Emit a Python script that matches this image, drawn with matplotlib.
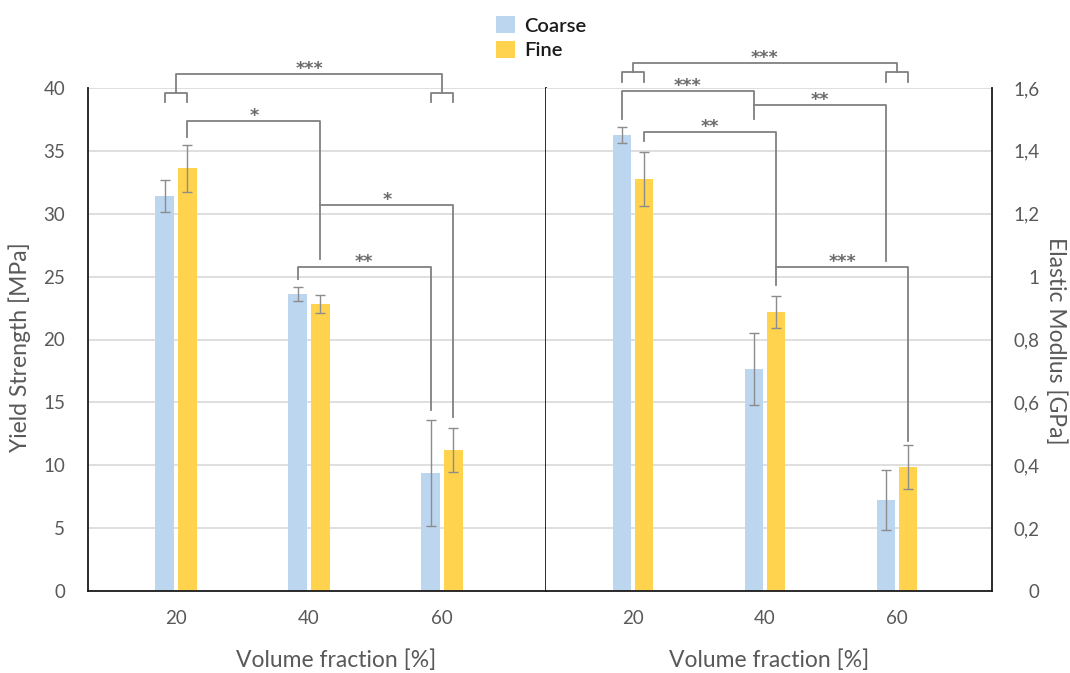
import matplotlib
matplotlib.use('Agg')
import matplotlib.pyplot as plt
from matplotlib.patches import Patch

plt.rcParams['font.family'] = ['Lato', 'DejaVu Sans']

fractions = ['20', '40', '60']
series = ['Coarse', 'Fine']
colors = ['#bcd6f0', '#ffd34e']

# rows: Coarse, Fine ; columns: 20, 40, 60 %
yield_mean = [[31.4, 23.6, 9.4], [33.6, 22.8, 11.2]]
yield_err = [[1.3, 0.55, 4.2], [1.85, 0.7, 1.75]]
modulus_mean = [[1.45, 0.706, 0.29], [1.31, 0.887, 0.394]]
modulus_err = [[0.025, 0.115, 0.095], [0.085, 0.05, 0.07]]

# significance brackets: (series, group) -> (series, group), top, leg1 bottom, leg2 bottom, label
yield_brackets = [
    ((1, 0), (1, 1), 37.4, 36.1, 26.4, '*'),
    ((1, 1), (1, 2), 30.7, 30.7, 13.8, '*'),
    ((0, 1), (0, 2), 25.8, 24.8, 14.4, '**'),
]
yield_group = (0, 2, 41.1, 39.6, 38.9, '***')

modulus_brackets = [
    ((0, 0), (0, 1), 1.59, 1.50, 1.50, '***'),
    ((0, 1), (0, 2), 1.546, 1.546, 1.05, '**'),
    ((1, 0), (1, 1), 1.46, 1.43, 0.973, '**'),
    ((1, 1), (1, 2), 1.03, 1.03, 0.477, '***'),
]
modulus_group = (0, 2, 1.68, 1.65, 1.62, '***')

off = 0.085
width = 0.14
txt_c = '#595959'
line_c = '#808080'
star_font = dict(fontsize=12.5, color='#6b6b6b', family='DejaVu Sans', fontweight='bold')


def bar_x(s, g):
    return g + (s - 0.5) * 2 * off


def draw_bars(ax, mean, err):
    for s in range(2):
        xs = [bar_x(s, g) for g in range(3)]
        ax.bar(xs, mean[s], width, color=colors[s], zorder=2)
        ax.errorbar(xs, mean[s], yerr=err[s], fmt='none', ecolor='#8c8c8c',
                    elinewidth=1, capsize=3.5, capthick=1, zorder=3)


def stars(ax, x, y, label):
    ax.annotate(label, (x, y), xytext=(0, 0), textcoords='offset points',
                ha='center', va='baseline', annotation_clip=False, **star_font)


def bracket(ax, a, b, top, b1, b2, label):
    x1 = bar_x(*a)
    x2 = bar_x(*b)
    ax.plot([x1, x1, x2, x2], [b1, top, top, b2], color=line_c, lw=1.3,
            clip_on=False, zorder=4)
    stars(ax, (x1 + x2) / 2, top, label)


def group_bracket(ax, g1, g2, top, sub, leg, label):
    for g in (g1, g2):
        ax.plot([bar_x(0, g), bar_x(0, g), bar_x(1, g), bar_x(1, g)], [leg, sub, sub, leg],
                color=line_c, lw=1.3, clip_on=False, zorder=4)
    ax.plot([g1, g1, g2, g2], [sub, top, top, sub], color=line_c, lw=1.3,
            clip_on=False, zorder=4)
    stars(ax, (g1 + g2) / 2, top, label)


fig = plt.figure(figsize=(10.7, 6.73), dpi=100)
ax1 = fig.add_axes([88 / 1070, 82 / 673, 458 / 1070, 503 / 673])
ax2 = fig.add_axes([546 / 1070, 82 / 673, 446 / 1070, 503 / 673])

draw_bars(ax1, yield_mean, yield_err)
draw_bars(ax2, modulus_mean, modulus_err)

for br in yield_brackets:
    bracket(ax1, *br)
group_bracket(ax1, *yield_group)
for br in modulus_brackets:
    bracket(ax2, *br)
group_bracket(ax2, *modulus_group)

ax1.set_xlim(-0.662, 2.782)
ax2.set_xlim(-0.659, 2.72)
ax1.set_ylim(0, 40)
ax2.set_ylim(0, 1.6)

yt1 = list(range(0, 41, 5))
ax1.set_yticks(yt1, [str(v) for v in yt1], ha='right')
yt2 = [i * 0.2 for i in range(9)]
ax2.set_yticks(yt2, [('%g' % round(v, 1)).replace('.', ',') for v in yt2], ha='right')
ax2.yaxis.tick_right()

for ax in (ax1, ax2):
    ax.set_xticks(range(3), fractions)
    ax.tick_params(axis='x', length=0, pad=14, labelsize=13.5, labelcolor=txt_c)
    ax.yaxis.grid(True, color='#d9d9d9', lw=1.2)
    ax.set_axisbelow(True)
    ax.spines['top'].set_visible(False)
    for sp in ax.spines.values():
        sp.set_color('#1a1a1a')
        sp.set_linewidth(1.3)

ax1.tick_params(axis='y', length=0, pad=16.5, labelsize=13.5, labelcolor=txt_c)
ax2.tick_params(axis='y', length=0, pad=34, labelsize=13.5, labelcolor=txt_c)
ax2.spines['left'].set_visible(False)

fig.text(20 / 1070, 1 - 347 / 673, 'Yield Strength [MPa]', rotation=90,
         ha='center', va='center', fontsize=16.5, color=txt_c)
fig.text(1056 / 1070, 1 - 341 / 673, 'Elastic Modlus [GPa]', rotation=-90,
         ha='center', va='center', fontsize=16.5, color=txt_c)
fig.text(336 / 1070, 1 - 660 / 673, 'Volume fraction [%]', ha='center', va='center',
         fontsize=16.5, color=txt_c)
fig.text(769 / 1070, 1 - 660 / 673, 'Volume fraction [%]', ha='center', va='center',
         fontsize=16.5, color=txt_c)

handles = [Patch(facecolor=c, edgecolor='none') for c in colors]
fig.legend(handles, series, loc='upper left', bbox_to_anchor=(482 / 1070, 1 - 2 / 673),
           frameon=False, prop=dict(size=14.5, weight='semibold'), handlelength=0.95,
           handleheight=0.95, handletextpad=0.45, labelspacing=0.3, borderpad=0.2,
           labelcolor='#1a1a1a')

fig.savefig('out.png', dpi=100)
